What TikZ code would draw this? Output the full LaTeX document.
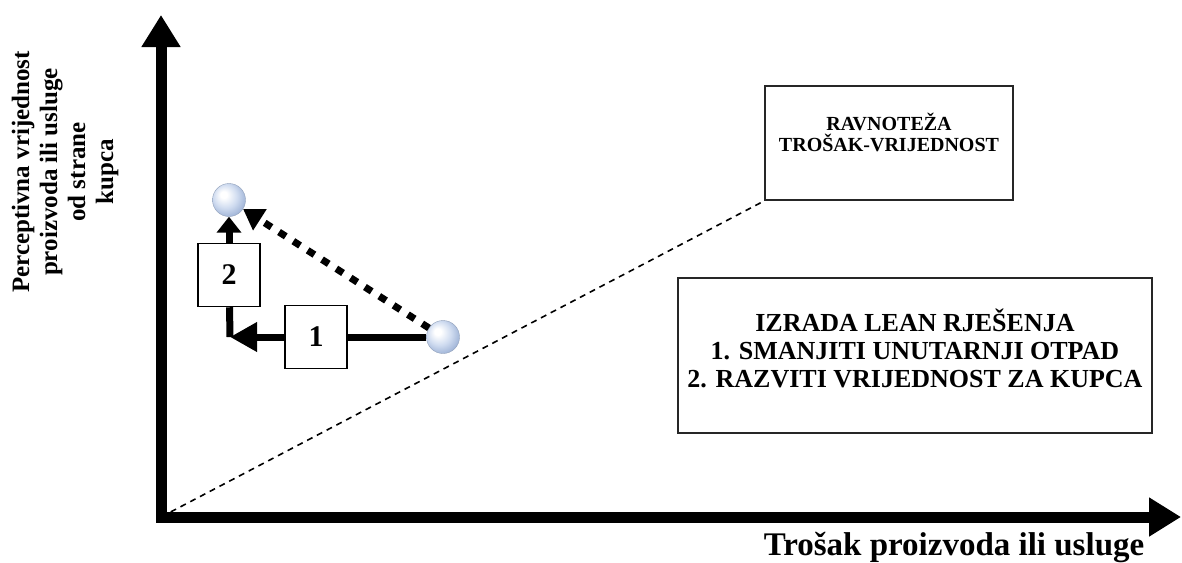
\documentclass[tikz,border=0pt]{standalone}
\usepackage{fontspec}
\setmainfont{Liberation Serif}
\usepackage{tikz}
\usetikzlibrary{arrows.meta,positioning}
\usepackage{xcolor}
\definecolor{orbedge}{RGB}{150,172,210}
\definecolor{orbmid}{RGB}{208,220,240}
\pgfdeclareradialshading{orb}{\pgfpoint{-9bp}{9bp}}{%
  color(0bp)=(white); color(5bp)=(white); color(18bp)=(orbmid);
  color(32bp)=(orbedge); color(50bp)=(orbedge)}
\tikzset{
  axis/.style={line width=11pt,line cap=rect,-{Triangle[length=32pt,width=37pt]}},
  guide/.style={dashed,line width=1.6pt,dash pattern=on 6pt off 5pt},
  flow/.style={line width=7pt},
  orbnode/.style={circle,shading=orb,draw=orbedge!70!gray,thin,
    minimum size=33pt,inner sep=0pt},
  stepbox/.style={draw,fill=white,line width=1.5pt,minimum width=62pt,
    minimum height=63pt,font=\bfseries\fontsize{30}{32}\selectfont},
  frame/.style={draw=black!85,line width=2pt},
  every node/.style={font=\bfseries}
}

\begin{document}
\begin{tikzpicture}[x=1pt,y=-1pt]
  \useasboundingbox (0,0) rectangle (1182,562);
  % axes
  \coordinate (o) at (161,517);
  \coordinate (xend) at (1181,517);
  \coordinate (yend) at (161,15);
  \node[frame,minimum width=248pt,minimum height=114pt] (eqbox) at (889,143) {};
  \node[font=\bfseries\fontsize{20}{21}\selectfont,align=center] (eqtext)
    at ([yshift=11pt]eqbox.center) {RAVNOTEŽA\\TROŠAK-VRIJEDNOST};
  \draw[guide] (o) -- (eqbox.south west);
  \draw[axis] (o) -- (xend);
  \draw[axis] (o) -- (yend);
  \node[font=\bfseries\fontsize{33}{36}\selectfont] (xlabel) at (954,547)
    {Trošak proizvoda ili usluge};
  \node[rotate=90,align=center,font=\bfseries\fontsize{25}{28}\selectfont]
    (ylabel) at (65,172)
    {Perceptivna vrijednost\\proizvoda ili usluge\\od strane\\kupca};
  % lean box
  \node[frame,minimum width=474pt,minimum height=155pt] (leanbox) at (915,355) {};
  \node[font=\bfseries\fontsize{26}{28}\selectfont,align=center] (leantext)
    at ([yshift=7pt]leanbox.center)
    {IZRADA LEAN RJEŠENJA\\1. SMANJITI UNUTARNJI OTPAD\\2. RAZVITI VRIJEDNOST ZA KUPCA};
  % steps
  \node[orbnode] (start) at (443,337) {};
  \node[orbnode] (goal) at (229,200) {};
  \node[stepbox] (one) at (316,337) {1};
  \node[stepbox] (two) at (229,275) {2};
  \coordinate (bend) at (230,337);
  \draw[flow] (start) -- (one);
  \draw[flow,-{Triangle[length=27pt,width=28pt]}] (one) -- (bend);
  \draw[flow] (bend) -- (two);
  \draw[flow,-{Triangle[length=16pt,width=24pt]}] (two) -- (goal);
  \draw[flow,dash pattern=on 8pt off 9pt,-{Triangle[length=20pt,width=24pt]}]
    (start) -- (goal);
\end{tikzpicture}
\end{document}
